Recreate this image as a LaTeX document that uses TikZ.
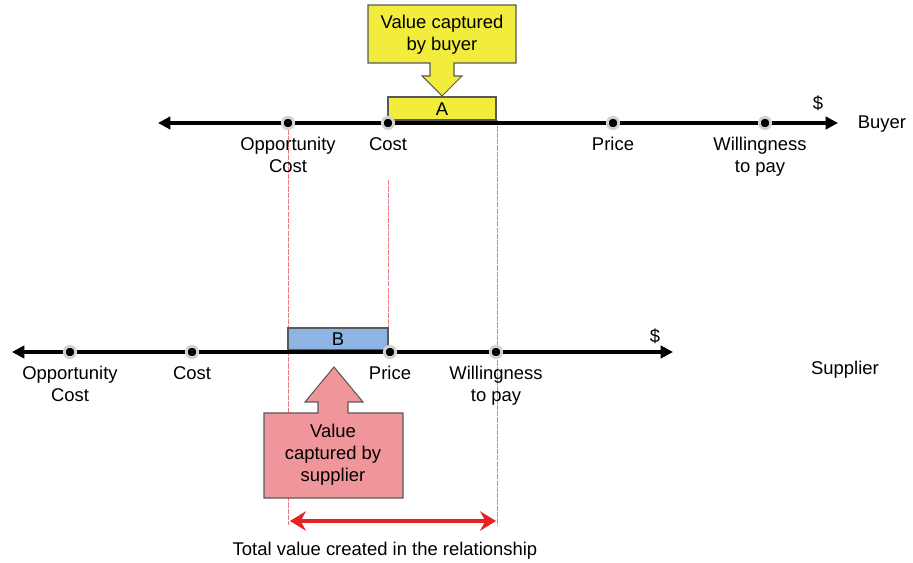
\documentclass[tikz,border=0pt]{standalone}
\usepackage{fontspec}
\setmainfont{Liberation Sans}
\usepackage{xcolor}
\usetikzlibrary{positioning, arrows.meta}
\definecolor{calloutyellow}{RGB}{242,236,60}
\definecolor{calloutpink}{RGB}{240,150,154}
\definecolor{boxblue}{RGB}{141,180,226}
\definecolor{guidered}{RGB}{235,120,130}
\definecolor{arrowred}{RGB}{230,35,35}
\newcommand{\LabelFont}{\fontsize{10.5}{12.6}\selectfont}

\begin{document}
\begin{tikzpicture}[x=0.02cm, y=-0.02cm,
    axisline/.style = {line width = 1.9pt, {Triangle[length=7pt,width=7pt]}-{Triangle[length=7pt,width=7pt]}},
    axisdot/.style = {circle, fill = black, draw = gray!35, line width = 1.6pt, inner sep = 0pt, minimum size = 6.5pt},
    ticklabel/.style = {font = \LabelFont, below = 4pt, align = center, inner sep = 0pt},
    guide/.style = {guidered, line width = 0.4pt, dash pattern = on 3pt off 0.6pt},
    valuebox/.style = {draw = gray!70!black, line width = 0.6pt, font = \LabelFont, inner sep = 0pt}
  ]
    \useasboundingbox (0, 0) rectangle (913, 563);
    \LabelFont

    % draw Buyer axis
    \coordinate (b-left) at (158, 123);
    \coordinate (b-right) at (838, 123);

    % draw Supplier axis
    \coordinate (s-left) at (12, 352);
    \coordinate (s-right) at (673, 352);

    % draw guide lines
    \coordinate (g-oc-end) at (288, 525);
    \coordinate (g-cost-top) at (388, 180);
    \coordinate (g-wtp-top) at (497, 120);
    \coordinate (g-wtp-end) at (497, 525);
    \draw[guide] (288, 123) -- (g-oc-end);
    \draw[guide] (g-cost-top) -- (388, 350);
    \draw[guide] (g-wtp-top) -- (g-wtp-end);

    % draw value boxes A and B
    \filldraw[valuebox, fill = calloutyellow] (388, 97) rectangle (496, 120);
    \node[font = \LabelFont] (boxA) at (442, 109) {A};
    \filldraw[valuebox, fill = boxblue] (288, 328) rectangle (388, 350);
    \node[font = \LabelFont] (boxB) at (338, 339) {B};

    \draw[axisline] (b-left) -- (b-right);
    \draw[axisline] (s-left) -- (s-right);

    % draw Buyer points and labels
    \node[axisdot] (b-oc) at (288, 123) {};
    \node[axisdot] (b-cost) at (388, 123) {};
    \node[axisdot] (b-price) at (613, 123) {};
    \node[axisdot] (b-wtp) at (765, 123) {};
    \node[ticklabel] at (b-oc.south) {Opportunity\\Cost};
    \node[ticklabel] at (b-cost.south) {Cost};
    \node[ticklabel] at (b-price.south) {Price};
    \node[ticklabel] at (760, 130) {Willingness\\to pay};
    \node (b-dollar) at (818, 103) {\$};
    \node (buyer) at (882, 124) {Buyer};

    % draw Supplier points and labels
    \node[axisdot] (s-oc) at (70, 352) {};
    \node[axisdot] (s-cost) at (192, 352) {};
    \node[axisdot] (s-price) at (390, 352) {};
    \node[axisdot] (s-wtp) at (496, 352) {};
    \node[ticklabel] at (s-oc.south) {Opportunity\\Cost};
    \node[ticklabel] at (s-cost.south) {Cost};
    \node[ticklabel] at (s-price.south) {Price};
    \node[ticklabel] at (s-wtp.south) {Willingness\\to pay};
    \node (s-dollar) at (655, 336) {\$};
    \node (supplier) at (845, 370) {Supplier};

    % draw callout for buyer
    \filldraw[valuebox, fill = calloutyellow]
        (368, 5) -- (516, 5) -- (516, 63) -- (454, 63) -- (454, 76) -- (462, 76)
        -- (442, 96) -- (422, 76) -- (430, 76) -- (430, 63) -- (368, 63) -- cycle;
    \node[align = center] (buyer-call) at (442, 35) {Value captured\\by buyer};

    % draw callout for supplier
    \filldraw[valuebox, fill = calloutpink]
        (334, 367) -- (363, 402) -- (348, 402) -- (348, 413) -- (403, 413) -- (403, 498)
        -- (264, 498) -- (264, 413) -- (318, 413) -- (318, 402) -- (305, 402) -- cycle;
    \node[align = center] (supplier-call) at (333, 455) {Value\\captured by\\supplier};

    % draw total value arrow
    \coordinate (t-left) at (290, 521);
    \coordinate (t-right) at (496, 521);
    \draw[arrowred, line width = 2pt, {Stealth[length=9pt,width=11pt]}-{Stealth[length=9pt,width=11pt]}] (t-left) -- (t-right);
    \node (total) at (385, 551) {Total value created in the relationship};

\end{tikzpicture}
\end{document}
